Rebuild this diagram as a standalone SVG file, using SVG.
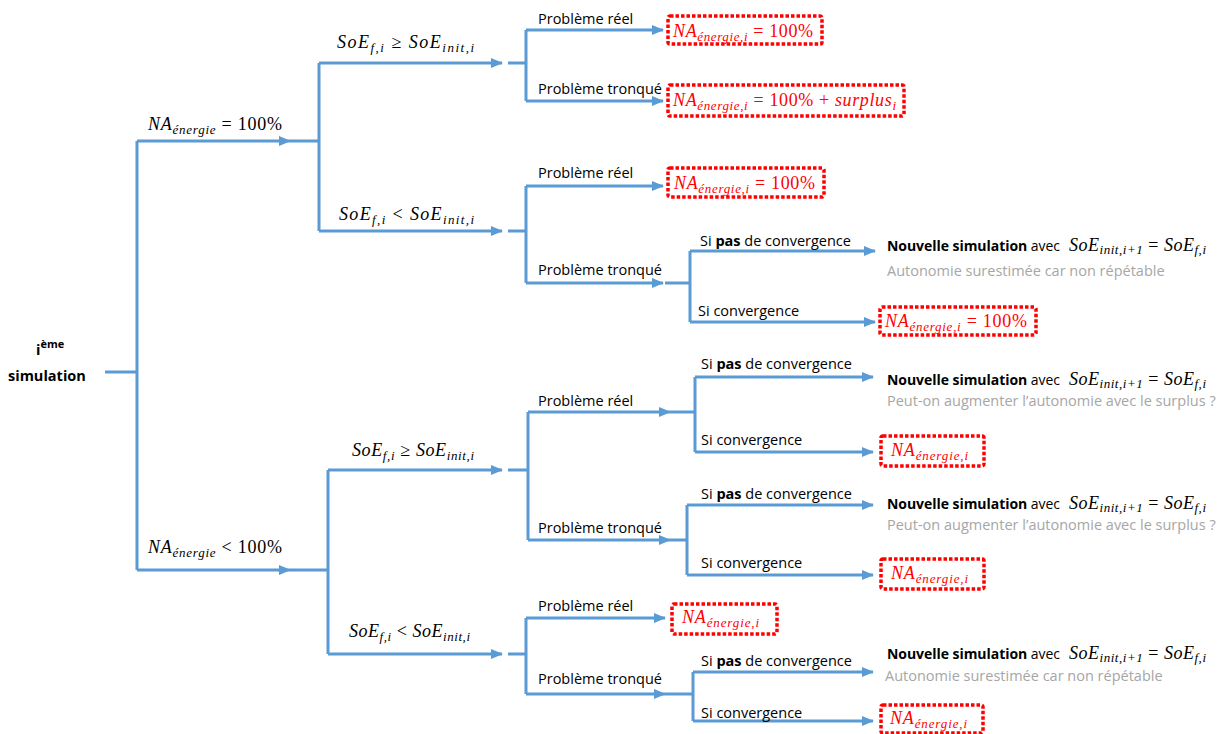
<svg xmlns="http://www.w3.org/2000/svg" width="1227" height="734" viewBox="0 0 1227 734">
<defs>
<marker id="ah" markerUnits="userSpaceOnUse" markerWidth="12" markerHeight="10" refX="11" refY="5" orient="auto">
<path d="M0,0 L12,5 L0,10 Z" fill="#5B9BD5"/>
</marker>
<style>
.c{fill:none;stroke:#5B9BD5;stroke-width:3}
.a{fill:none;stroke:#5B9BD5;stroke-width:3;marker-end:url(#ah)}
.t{font-family:"Open Sans","Liberation Sans",sans-serif;font-size:14.5px;fill:#000}
.n{font-family:"Open Sans","Liberation Sans",sans-serif;font-size:14px;fill:#000}
.b{font-weight:bold}
.g{font-family:"Open Sans","Liberation Sans",sans-serif;font-size:14.5px;fill:#A6A6A6}
.m{font-family:"Liberation Serif","DejaVu Serif",serif;font-size:18px;fill:#000}
.r{fill:#FF0000}
.i{font-style:italic}
.s{font-size:13px;font-style:italic}
.box{fill:#fff;stroke:#FF0000;stroke-width:3.5;stroke-dasharray:3.5 2}
</style>
</defs>
<rect width="1227" height="734" fill="#fff"/>
<g id="connectors">
<path class="c" d="M105,372 H137 M137,141 V570"/>
<path class="a" d="M137,141 H290"/>
<path class="c" d="M290,141 H319 M319,63 V231"/>
<path class="a" d="M319,63 H502"/>
<path class="c" d="M508,63 H526 M526,30 V101"/>
<path class="a" d="M526,30 H663"/>
<path class="a" d="M526,101 H663"/>
<path class="a" d="M319,231 H502"/>
<path class="c" d="M508,231 H526 M526,186 V283"/>
<path class="a" d="M526,186 H663"/>
<path class="a" d="M526,283 H663"/>
<path class="c" d="M665,283 H690 M690,251 V322"/>
<path class="a" d="M690,251 H875"/>
<path class="a" d="M690,322 H875"/>
<path class="a" d="M137,570 H290"/>
<path class="c" d="M290,570 H328 M328,470 V654"/>
<path class="a" d="M328,470 H502"/>
<path class="c" d="M508,470 H528 M528,412 V540"/>
<path class="a" d="M528,412 H670"/>
<path class="c" d="M670,412 H695 M695,377 V452"/>
<path class="a" d="M695,377 H873"/>
<path class="a" d="M695,452 H873"/>
<path class="a" d="M528,540 H670"/>
<path class="c" d="M670,540 H687 M687,505 V575"/>
<path class="a" d="M687,505 H873"/>
<path class="a" d="M687,575 H873"/>
<path class="a" d="M328,654 H502"/>
<path class="c" d="M508,654 H526 M526,618 V694"/>
<path class="a" d="M526,618 H665"/>
<path class="a" d="M526,694 H665"/>
<path class="c" d="M665,694 H693 M693,672 V721"/>
<path class="a" d="M693,672 H873"/>
<path class="a" d="M693,721 H873"/>
</g>
<g id="root">
<text class="t b" x="36" y="355" font-size="16">i<tspan font-size="11" dy="-7">ème</tspan></text>
<text class="t b" x="8" y="381" font-size="17">simulation</text>
</g>
<g id="labels-level1">
<text class="m" x="148" y="130" textLength="134"><tspan class="i">NA</tspan><tspan class="s" dy="4">énergie</tspan><tspan dy="-4"> = 100%</tspan></text>
<text class="m" x="148" y="553" textLength="134"><tspan class="i">NA</tspan><tspan class="s" dy="4">énergie</tspan><tspan dy="-4"> &lt; 100%</tspan></text>
</g>
<g id="labels-level2">
<text class="m" x="337" y="48" textLength="137"><tspan class="i">SoE</tspan><tspan class="s" dy="4">f,i</tspan><tspan dy="-4"> ≥ </tspan><tspan class="i">SoE</tspan><tspan class="s" dy="4">init,i</tspan></text>
<text class="m" x="339" y="220" textLength="135"><tspan class="i">SoE</tspan><tspan class="s" dy="4">f,i</tspan><tspan dy="-4"> &lt; </tspan><tspan class="i">SoE</tspan><tspan class="s" dy="4">init,i</tspan></text>
<text class="m" x="352" y="456" textLength="122"><tspan class="i">SoE</tspan><tspan class="s" dy="4">f,i</tspan><tspan dy="-4"> ≥ </tspan><tspan class="i">SoE</tspan><tspan class="s" dy="4">init,i</tspan></text>
<text class="m" x="349" y="637" textLength="121"><tspan class="i">SoE</tspan><tspan class="s" dy="4">f,i</tspan><tspan dy="-4"> &lt; </tspan><tspan class="i">SoE</tspan><tspan class="s" dy="4">init,i</tspan></text>
</g>
<g id="labels-level3">
<text class="t" x="538" y="24">Problème réel</text>
<text class="t" x="538" y="94">Problème tronqué</text>
<text class="t" x="538" y="178">Problème réel</text>
<text class="t" x="538" y="275">Problème tronqué</text>
<text class="t" x="538" y="406">Problème réel</text>
<text class="t" x="538" y="533">Problème tronqué</text>
<text class="t" x="538" y="611">Problème réel</text>
<text class="t" x="538" y="684">Problème tronqué</text>
</g>
<g id="labels-level4">
<text class="t" x="700" y="246">Si <tspan class="b">pas</tspan> de convergence</text>
<text class="t" x="698" y="316">Si convergence</text>
<text class="t" x="701" y="369">Si <tspan class="b">pas</tspan> de convergence</text>
<text class="t" x="701" y="445">Si convergence</text>
<text class="t" x="701" y="499">Si <tspan class="b">pas</tspan> de convergence</text>
<text class="t" x="701" y="568">Si convergence</text>
<text class="t" x="701" y="666">Si <tspan class="b">pas</tspan> de convergence</text>
<text class="t" x="701" y="718">Si convergence</text>
</g>
<g id="result1">
<rect class="box" x="668" y="16" width="154" height="28" rx="2"/>
<text class="m r" x="673" y="37" textLength="140"><tspan class="i">NA</tspan><tspan class="s" dy="4">énergie,i</tspan><tspan dy="-4"> = 100%</tspan></text>
</g>
<g id="result2">
<rect class="box" x="668" y="85" width="236" height="31" rx="2"/>
<text class="m r" x="673" y="106" textLength="223"><tspan class="i">NA</tspan><tspan class="s" dy="4">énergie,i</tspan><tspan dy="-4"> = 100% + </tspan><tspan class="i">surplus</tspan><tspan class="s" dy="4">i</tspan></text>
</g>
<g id="result3">
<rect class="box" x="668" y="168" width="156" height="29" rx="2"/>
<text class="m r" x="674" y="189" textLength="141"><tspan class="i">NA</tspan><tspan class="s" dy="4">énergie,i</tspan><tspan dy="-4"> = 100%</tspan></text>
</g>
<g id="newsim1">
<text class="n" x="887" y="251" textLength="173"><tspan class="b">Nouvelle simulation</tspan> avec</text>
<text class="m" x="1069" y="251" textLength="137"><tspan class="i">SoE</tspan><tspan class="s" dy="3">init,i+1</tspan><tspan dy="-3"> = </tspan><tspan class="i">SoE</tspan><tspan class="s" dy="3">f,i</tspan></text>
<text class="g" x="887" y="276">Autonomie surestimée car non répétable</text>
</g>
<g id="result4">
<rect class="box" x="880" y="307" width="156" height="28" rx="2"/>
<text class="m r" x="885" y="327" textLength="142"><tspan class="i">NA</tspan><tspan class="s" dy="4">énergie,i</tspan><tspan dy="-4"> = 100%</tspan></text>
</g>
<g id="newsim2">
<text class="n" x="887" y="385" textLength="173"><tspan class="b">Nouvelle simulation</tspan> avec</text>
<text class="m" x="1069" y="385" textLength="137"><tspan class="i">SoE</tspan><tspan class="s" dy="3">init,i+1</tspan><tspan dy="-3"> = </tspan><tspan class="i">SoE</tspan><tspan class="s" dy="3">f,i</tspan></text>
<text class="g" x="887" y="406">Peut-on augmenter l’autonomie avec le surplus ?</text>
</g>
<g id="result5">
<rect class="box" x="881" y="436" width="103" height="30" rx="2"/>
<text class="m r" x="891" y="456" textLength="77"><tspan class="i">NA</tspan><tspan class="s" dy="4">énergie,i</tspan></text>
</g>
<g id="newsim3">
<text class="n" x="887" y="509" textLength="173"><tspan class="b">Nouvelle simulation</tspan> avec</text>
<text class="m" x="1069" y="509" textLength="137"><tspan class="i">SoE</tspan><tspan class="s" dy="3">init,i+1</tspan><tspan dy="-3"> = </tspan><tspan class="i">SoE</tspan><tspan class="s" dy="3">f,i</tspan></text>
<text class="g" x="887" y="530">Peut-on augmenter l’autonomie avec le surplus ?</text>
</g>
<g id="result6">
<rect class="box" x="881" y="559" width="103" height="30" rx="2"/>
<text class="m r" x="891" y="579" textLength="77"><tspan class="i">NA</tspan><tspan class="s" dy="4">énergie,i</tspan></text>
</g>
<g id="result7">
<rect class="box" x="672" y="604" width="105" height="30" rx="2"/>
<text class="m r" x="682" y="623" textLength="77"><tspan class="i">NA</tspan><tspan class="s" dy="4">énergie,i</tspan></text>
</g>
<g id="newsim4">
<text class="n" x="887" y="659" textLength="173"><tspan class="b">Nouvelle simulation</tspan> avec</text>
<text class="m" x="1069" y="659" textLength="137"><tspan class="i">SoE</tspan><tspan class="s" dy="3">init,i+1</tspan><tspan dy="-3"> = </tspan><tspan class="i">SoE</tspan><tspan class="s" dy="3">f,i</tspan></text>
<text class="g" x="885" y="681">Autonomie surestimée car non répétable</text>
</g>
<g id="result8">
<rect class="box" x="881" y="705" width="102" height="28" rx="2"/>
<text class="m r" x="890" y="724" textLength="77"><tspan class="i">NA</tspan><tspan class="s" dy="4">énergie,i</tspan></text>
</g>
</svg>
